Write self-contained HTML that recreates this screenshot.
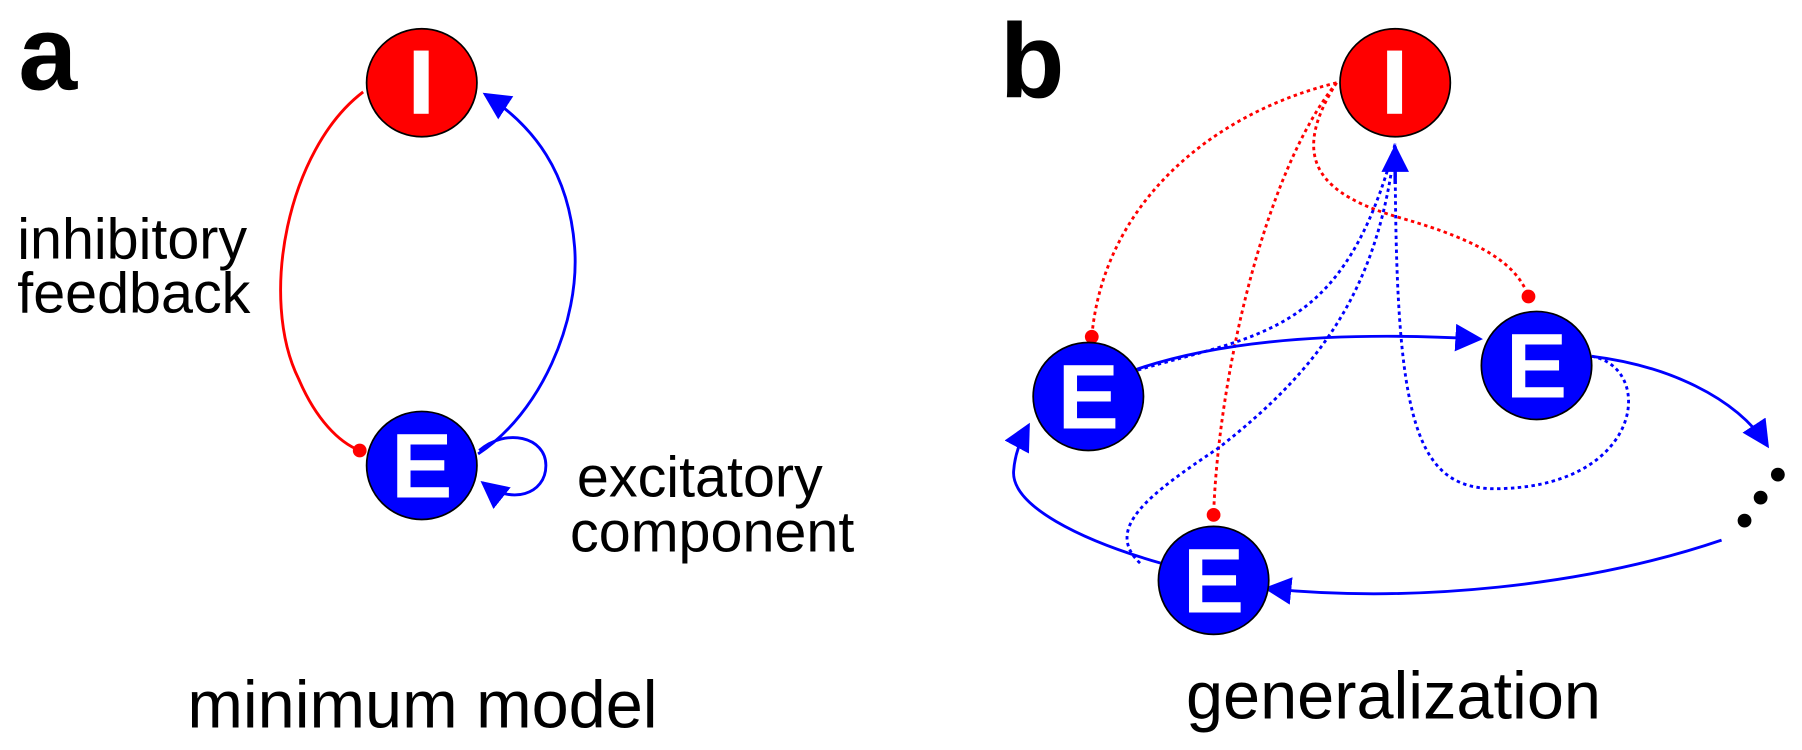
<!DOCTYPE html>
<html><head><meta charset="utf-8"><style>html,body{margin:0;padding:0;background:#fff}svg{display:block}</style></head>
<body>
<svg width="1802" height="750" viewBox="0 0 1568 652.6" xmlns="http://www.w3.org/2000/svg" font-family="Liberation Sans, Arial, sans-serif">
<defs>
<marker id="ab2" viewBox="0 0 10 10" refX="9" refY="5" markerWidth="24" markerHeight="24" markerUnits="userSpaceOnUse" orient="auto"><path d="M0,0L10,5L0,10z" fill="#0000ff"/></marker>
</defs>
<rect width="1568" height="653" fill="#fff"/>
<!-- panel a -->
<text x="16" y="78" font-size="92" font-weight="bold">a</text>
<path d="M316,80 C250,130 225,260 260,330 C275,365 295,385 313,392" fill="none" stroke="#ff0000" stroke-width="2.5"/>
<circle cx="313" cy="392" r="6" fill="#ff0000"/>
<path d="M416,395 C470,360 505,280 500,215 C495,150 465,110 422,82" fill="none" stroke="#0000ff" stroke-width="2.5" marker-end="url(#ab2)"/>
<path d="M417,392 C440,372 475,380 475,405 C475,430 445,440 420,420" fill="none" stroke="#0000ff" stroke-width="2.5" marker-end="url(#ab2)"/>
<ellipse cx="367" cy="72" rx="48" ry="47" fill="#ff0000" stroke="#000" stroke-width="1.5"/>
<rect x="360" y="44" width="13" height="55" fill="#fff"/>
<ellipse cx="367" cy="405" rx="48" ry="47" fill="#0000ff" stroke="#000" stroke-width="1.5"/>
<text x="367" y="433" font-size="80" font-weight="bold" fill="#fff" text-anchor="middle">E</text>
<text x="15" y="225" font-size="50">inhibitory</text>
<text x="15" y="272" font-size="50">feedback</text>
<text x="502" y="432" font-size="50">excitatory</text>
<text x="496" y="480" font-size="50">component</text>
<text x="163" y="633" font-size="58">minimum model</text>
<!-- panel b -->
<text x="870" y="85" font-size="92" font-weight="bold">b</text>
<g fill="none" stroke="#ff0000" stroke-width="2.5" stroke-dasharray="3,3">
<path d="M1163,72 C1050,100 960,180 950,293"/>
<path d="M1163,72 C1100,150 1060,330 1056,448"/>
<path d="M1163,72 C1120,140 1150,170 1220,190 C1290,210 1320,230 1330,258"/>
</g>
<circle cx="950" cy="293" r="6" fill="#ff0000"/>
<circle cx="1056" cy="448" r="6" fill="#ff0000"/>
<circle cx="1330" cy="258" r="6" fill="#ff0000"/>
<g fill="none" stroke="#0000ff" stroke-width="2.5" stroke-dasharray="3,3">
<path d="M990,322 C1100,290 1170,290 1214,125"/>
<path d="M992,490 C960,460 1000,430 1060,390 C1150,320 1200,250 1214,125"/>
<path d="M1385,310 C1440,320 1430,420 1310,425 C1230,430 1214,370 1214,125"/>
</g>
<path d="M1214,160 L1214,128" stroke="#0000ff" stroke-width="3" marker-end="url(#ab2)"/>
<g fill="none" stroke="#0000ff" stroke-width="2.5">
<path d="M987,322 C1080,290 1200,290 1288,295" marker-end="url(#ab2)"/>
<path d="M1385,310 C1450,318 1510,345 1538,388" marker-end="url(#ab2)"/>
<path d="M1498,470 C1380,510 1230,525 1102,512" marker-end="url(#ab2)"/>
<path d="M1010,490 C940,470 880,440 882,410 C883,395 888,383 895,370" marker-end="url(#ab2)"/>
</g>
<circle cx="1547" cy="413" r="6" fill="#000"/>
<circle cx="1532" cy="433" r="6" fill="#000"/>
<circle cx="1518" cy="453" r="6" fill="#000"/>
<ellipse cx="1214" cy="72" rx="48" ry="47" fill="#ff0000" stroke="#000" stroke-width="1.5"/>
<rect x="1207" y="44" width="13" height="55" fill="#fff"/>
<ellipse cx="947" cy="345" rx="48" ry="47" fill="#0000ff" stroke="#000" stroke-width="1.5"/>
<text x="947" y="373" font-size="80" font-weight="bold" fill="#fff" text-anchor="middle">E</text>
<ellipse cx="1337" cy="318" rx="48" ry="47" fill="#0000ff" stroke="#000" stroke-width="1.5"/>
<text x="1337" y="346" font-size="80" font-weight="bold" fill="#fff" text-anchor="middle">E</text>
<ellipse cx="1056" cy="505" rx="48" ry="47" fill="#0000ff" stroke="#000" stroke-width="1.5"/>
<text x="1056" y="533" font-size="80" font-weight="bold" fill="#fff" text-anchor="middle">E</text>
<text x="1032" y="625" font-size="58">generalization</text>
</svg>
</body></html>
